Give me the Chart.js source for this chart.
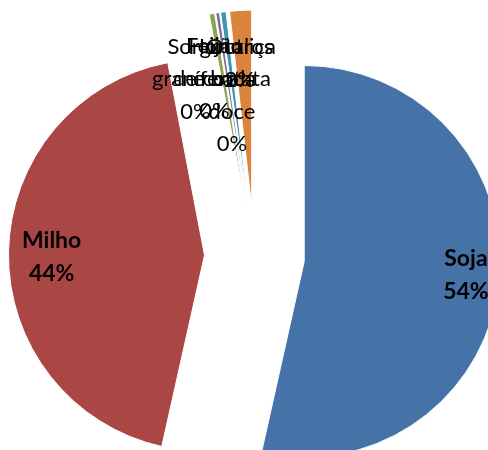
<!DOCTYPE html>
<html>
<head>
<meta charset="utf-8">
<script src="https://cdn.jsdelivr.net/npm/chart.js@4.4.1/dist/chart.umd.min.js"></script>
<style>
    html, body { margin: 0; padding: 0; background: #fff; }
</style>
</head>
<body>
<canvas id="culturas-pie" width="488" height="450"></canvas>
<script>
// slice data
var categories = ['Soja', 'Milho', 'Sorgo granífero', 'Feijão de corda', 'Hortaliça e batata doce', 'Outros'];
var labelLines = [['Soja'], ['Milho'], ['Sorgo', 'granífero'], ['Feijão', 'de corda'], ['Hortaliça', 'e batata', 'doce'], ['Outros']];
var shares = [53.5, 43.5, 0.45, 0.3, 0.45, 1.8];
var sliceColors = ['#4572A7', '#AA4643', '#89A54E', '#80699B', '#3D96AE', '#DB843D'];

(function() {
    'use strict';

    var RADIUS = 196;
    var EXPLODE = 50;

    // Excel-style explosion: push every slice out along its own mid angle
    // (the built-in offset option trims small slices away)
    var explodePlugin = {
        id: 'explode',
        afterDatasetsUpdate: function(chart) {
            chart.getDatasetMeta(0).data.forEach(function(arc) {
                var mid = (arc.startAngle + arc.endAngle) / 2;
                arc.x += Math.cos(mid) * EXPLODE;
                arc.y += Math.sin(mid) * EXPLODE;
            });
        }
    };

    var labelPlugin = {
        id: 'sliceLabels',
        afterDatasetsDraw: function(chart, args, opts) {
            var ctx = chart.ctx;
            var ds = chart.data.datasets[0];
            var total = ds.data.reduce(function(a, b) { return a + b; }, 0);

            chart.getDatasetMeta(0).data.forEach(function(arc, i) {
                var mid = (arc.startAngle + arc.endAngle) / 2;
                var d = arc.outerRadius * opts.dist[i];
                var x = arc.x + Math.cos(mid) * d + opts.dx[i];
                var y = arc.y + Math.sin(mid) * d + opts.dy[i];
                var pct = Math.round(ds.data[i] * 100 / total) + '%';
                var lines = labelLines[i].concat([pct]);
                var big = i < 2;
                var lh = big ? 33 : 32.5;
                var top = y - (lines.length - 1) * lh / 2;

                ctx.save();
                ctx.font = (big ? 'bold 23px' : '22px') + ' Lato, "Open Sans", sans-serif';
                ctx.fillStyle = '#000';
                ctx.textAlign = 'center';
                ctx.textBaseline = 'middle';
                for (var k = 0; k < lines.length; k++) {
                    ctx.fillText(lines[k], x, top + k * lh);
                }
                ctx.restore();
            });
        }
    };

    new Chart(document.getElementById('culturas-pie'), {
        type: 'pie',
        data: {
            labels: categories,
            datasets: [{
                data: shares,
                backgroundColor: sliceColors,
                borderColor: '#fff',
                borderWidth: 1
            }]
        },
        options: {
            responsive: false,
            animation: false,
            events: [],
            radius: RADIUS,
            layout: {
                padding: { left: 21, top: 62, right: 0, bottom: 0 }
            },
            plugins: {
                legend: { display: false },
                tooltip: { enabled: false },
                sliceLabels: {
                    dist: [0.83, 0.78, 0.66, 0.66, 0.57, 0.73],
                    dx: [0, 0, -28, -13, -2, -4],
                    dy: [-4, 4, 0, 0, 0, 0]
                }
            }
        },
        plugins: [explodePlugin, labelPlugin]
    });
})();
</script>
</body>
</html>
